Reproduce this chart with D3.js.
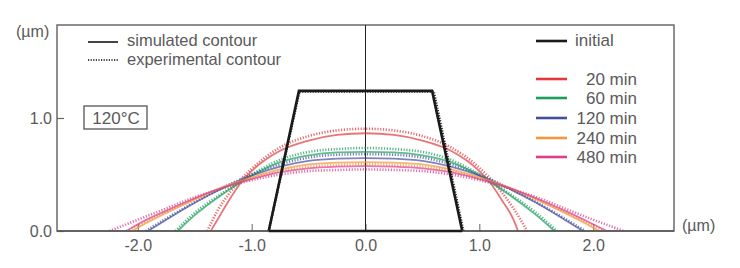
<!DOCTYPE html>
<html><head><meta charset="utf-8">
<script src="https://cdn.jsdelivr.net/npm/d3@7"></script>
<style>
body{margin:0;background:#fff;}
text{font-family:"Liberation Sans",Arial,Helvetica,sans-serif;fill:#5a5a5a;}
</style></head>
<body><svg id="c" width="740" height="268"></svg>
<script>
// ---- data (µm) ----
const xTicks = [-2.0, -1.0, 0.0, 1.0, 2.0];
const yTicks = [0.0, 1.0];
const times = ["20 min", "60 min", "120 min", "240 min", "480 min"];
const colors = ["#e3393f", "#1d9e5c", "#464f9f", "#f4963a", "#d93f8f"];

const initialSim = [[-0.85,0],[-0.585,1.24],[0.585,1.24],[0.85,0]];
const initialExp = [[-0.85,0],[-0.58,1.235],[0.6,1.235],[0.86,0]];

const sim20 = [[-1.36,0],[-1.3,0.1],[-1.2,0.27],[-1.1,0.42],[-1.0,0.53],[-0.75,0.71],[-0.5,0.8],[-0.25,0.85],[0,0.865],[0.25,0.85],[0.5,0.8],[0.75,0.71],[1.0,0.53],[1.1,0.42],[1.2,0.27],[1.3,0.1],[1.34,0]];
const exp20 = [[-1.39,0],[-1.3,0.18],[-1.2,0.33],[-1.1,0.45],[-1.0,0.55],[-0.75,0.74],[-0.5,0.84],[-0.25,0.89],[0,0.905],[0.25,0.89],[0.5,0.84],[0.75,0.74],[1.0,0.56],[1.1,0.46],[1.2,0.34],[1.3,0.2],[1.42,0]];
const sim60 = [[-1.65,0],[-1.5,0.14],[-1.25,0.33],[-1.0,0.49],[-0.75,0.61],[-0.5,0.67],[-0.25,0.695],[0,0.70],[0.25,0.695],[0.5,0.67],[0.75,0.61],[1.0,0.49],[1.25,0.33],[1.5,0.14],[1.66,0]];
const exp60 = [[-1.67,0],[-1.5,0.16],[-1.25,0.34],[-1.0,0.5],[-0.75,0.63],[-0.5,0.70],[-0.25,0.725],[0,0.735],[0.25,0.725],[0.5,0.70],[0.75,0.63],[1.0,0.5],[1.25,0.34],[1.5,0.16],[1.68,0]];
const sim120 = [[-1.91,0],[-1.75,0.1],[-1.5,0.25],[-1.25,0.38],[-1.0,0.49],[-0.75,0.57],[-0.5,0.62],[-0.25,0.64],[0,0.645],[0.25,0.64],[0.5,0.62],[0.75,0.57],[1.0,0.49],[1.25,0.38],[1.5,0.25],[1.75,0.1],[1.91,0]];
const exp120 = [[-1.93,0],[-1.75,0.11],[-1.5,0.255],[-1.25,0.385],[-1.0,0.5],[-0.75,0.59],[-0.5,0.65],[-0.25,0.675],[0,0.68],[0.25,0.675],[0.5,0.65],[0.75,0.59],[1.0,0.5],[1.25,0.385],[1.5,0.255],[1.75,0.11],[1.93,0]];
const sim240 = [[-2.05,0],[-2.0,0.03],[-1.75,0.16],[-1.5,0.28],[-1.25,0.39],[-1.0,0.475],[-0.75,0.545],[-0.5,0.59],[-0.25,0.605],[0,0.61],[0.25,0.605],[0.5,0.59],[0.75,0.545],[1.0,0.475],[1.25,0.39],[1.5,0.28],[1.75,0.16],[2.0,0.03],[2.05,0]];
const exp240 = [[-2.1,0],[-2.0,0.05],[-1.75,0.17],[-1.5,0.28],[-1.25,0.385],[-1.0,0.465],[-0.75,0.53],[-0.5,0.57],[-0.25,0.585],[0,0.59],[0.25,0.585],[0.5,0.57],[0.75,0.53],[1.0,0.465],[1.25,0.385],[1.5,0.28],[1.75,0.17],[2.0,0.05],[2.1,0]];
const sim480 = [[-2.1,0],[-2.0,0.06],[-1.75,0.18],[-1.5,0.29],[-1.25,0.385],[-1.0,0.46],[-0.75,0.52],[-0.5,0.555],[-0.25,0.57],[0,0.575],[0.25,0.57],[0.5,0.555],[0.75,0.52],[1.0,0.46],[1.25,0.385],[1.5,0.29],[1.75,0.18],[2.0,0.06],[2.12,0]];
const exp480 = [[-2.25,0],[-2.0,0.1],[-1.75,0.2],[-1.5,0.3],[-1.25,0.38],[-1.0,0.45],[-0.75,0.5],[-0.5,0.53],[-0.25,0.54],[0,0.545],[0.25,0.54],[0.5,0.53],[0.75,0.5],[1.0,0.45],[1.25,0.38],[1.5,0.3],[1.75,0.2],[2.0,0.1],[2.27,0]];

const simSeries = [sim20, sim60, sim120, sim240, sim480];
const expSeries = [exp20, exp60, exp120, exp240, exp480];

// ---- layout ----
const svg = d3.select("#c");
const L = 57, R = 674, T = 25, B = 231;
const x = d3.scaleLinear().domain([-2.71, 2.71]).range([L, R]);
const y = d3.scaleLinear().domain([0, 1.823]).range([B, T]);
const fmt = d => d3.format(".1f")(d).replace("\u2212", "-");

// frame
svg.append("rect").attr("x", L).attr("y", T).attr("width", R - L).attr("height", B - T)
  .attr("fill", "none").attr("stroke", "#6a6a6a").attr("stroke-width", 1.5);

// axes (ticks inward)
const xAxis = svg.append("g").attr("transform", `translate(0,${B})`)
  .call(d3.axisBottom(x).tickValues(xTicks).tickSize(-7).tickPadding(9).tickFormat(fmt));
xAxis.select(".domain").remove();
xAxis.selectAll("line").attr("stroke", "#666");
xAxis.selectAll("text").attr("font-size", 16).style("fill", "#5a5a5a");

const yAxis = svg.append("g").attr("transform", `translate(${L},0)`)
  .call(d3.axisLeft(y).tickValues(yTicks).tickSize(-7).tickPadding(5).tickFormat(fmt));
yAxis.select(".domain").remove();
yAxis.selectAll("line").attr("stroke", "#666").attr("stroke-width", 1.2);
yAxis.selectAll("text").attr("font-size", 16).style("fill", "#5a5a5a");

// center vertical line
svg.append("line").attr("x1", x(0)).attr("x2", x(0)).attr("y1", T).attr("y2", B)
  .attr("stroke", "#222").attr("stroke-width", 1);

// unit labels
svg.append("text").attr("x", 16).attr("y", 37).attr("font-size", 16).text("(µm)");
svg.append("text").attr("x", 682).attr("y", 231).attr("font-size", 16).text("(µm)");

// curves
const line = d3.line().x(d => x(d[0])).y(d => y(d[1])).curve(d3.curveMonotoneX);
const lineLin = d3.line().x(d => x(d[0])).y(d => y(d[1]));

const g = svg.append("g");
expSeries.forEach((s, i) => {
  g.append("path").attr("d", line(s)).attr("fill", "none")
    .attr("stroke", colors[i]).attr("stroke-width", 2.6).attr("stroke-opacity", 0.75)
    .attr("stroke-dasharray", "1.2,1.6");
});
simSeries.forEach((s, i) => {
  g.append("path").attr("d", line(s)).attr("fill", "none")
    .attr("stroke", colors[i]).attr("stroke-width", 1.8).attr("stroke-opacity", 0.7);
});

// initial
g.append("path").attr("d", lineLin(initialExp)).attr("fill", "none")
  .attr("stroke", "#222").attr("stroke-width", 2.4).attr("stroke-dasharray", "1.2,1.4");
g.append("path").attr("d", lineLin(initialSim)).attr("fill", "none")
  .attr("stroke", "#1a1a1a").attr("stroke-width", 2.6);
// baseline redraw
svg.append("line").attr("x1", L).attr("x2", R).attr("y1", B).attr("y2", B)
  .attr("stroke", "#555").attr("stroke-width", 1.6);
svg.append("line").attr("x1", x(-0.85)).attr("x2", x(0.85)).attr("y1", B).attr("y2", B)
  .attr("stroke", "#1a1a1a").attr("stroke-width", 2.6);

// legend top-left
svg.append("line").attr("x1", 88).attr("x2", 118).attr("y1", 42).attr("y2", 42)
  .attr("stroke", "#444").attr("stroke-width", 2);
svg.append("text").attr("x", 127).attr("y", 45.5).attr("font-size", 16.5).text("simulated contour");
svg.append("line").attr("x1", 88).attr("x2", 118).attr("y1", 60).attr("y2", 60)
  .attr("stroke", "#444").attr("stroke-width", 2).attr("stroke-dasharray", "1.2,1.4");
svg.append("text").attr("x", 127).attr("y", 64.5).attr("font-size", 16.5).text("experimental contour");

// 120°C box
svg.append("rect").attr("x", 84).attr("y", 106).attr("width", 63).attr("height", 23)
  .attr("fill", "none").attr("stroke", "#555").attr("stroke-width", 1.3);
svg.append("text").attr("x", 116).attr("y", 124).attr("text-anchor", "middle")
  .attr("font-size", 17).text("120°C");

// legend right
svg.append("line").attr("x1", 536).attr("x2", 567).attr("y1", 41).attr("y2", 41)
  .attr("stroke", "#1a1a1a").attr("stroke-width", 2.6);
svg.append("text").attr("x", 575).attr("y", 46).attr("font-size", 17).text("initial");
const legY = [79, 98, 118, 138, 157];
times.forEach((t, i) => {
  svg.append("line").attr("x1", 536).attr("x2", 567).attr("y1", legY[i]).attr("y2", legY[i])
    .attr("stroke", colors[i]).attr("stroke-width", 2.6);
  svg.append("text").attr("x", 637).attr("y", legY[i] + 6).attr("text-anchor", "end")
    .attr("font-size", 17).text(t);
});
</script></body></html>
